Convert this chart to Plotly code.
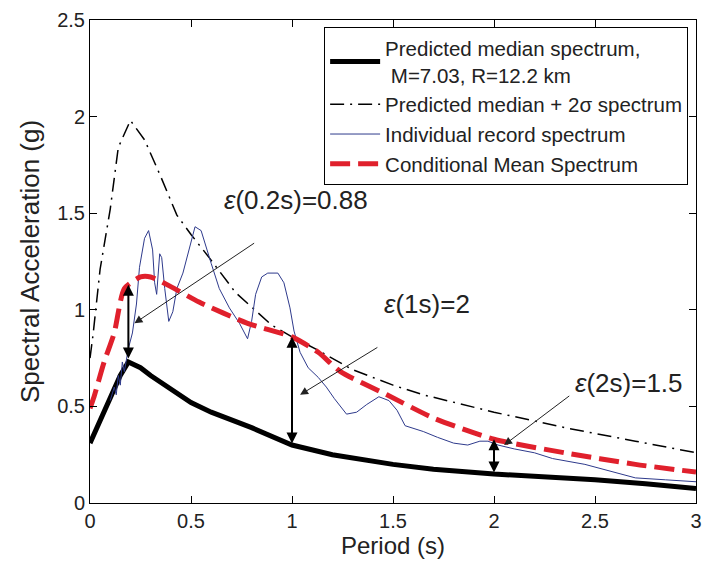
import plotly.graph_objects as go

# ---------------- data ----------------
T_median = [0, 0.05, 0.1, 0.15, 0.19, 0.25, 0.3, 0.4, 0.5, 0.6, 0.7, 0.8, 1.0, 1.2, 1.5, 1.7, 2.0, 2.35, 2.5, 2.75, 3.0]
SA_median = [0.31, 0.43, 0.55, 0.66, 0.73, 0.70, 0.66, 0.59, 0.52, 0.47, 0.43, 0.39, 0.30, 0.25, 0.20, 0.175, 0.15, 0.13, 0.12, 0.10, 0.075]

T_plus2s = [0, 0.015, 0.05, 0.1, 0.14, 0.2, 0.27, 0.35, 0.43, 0.5, 0.59, 0.72, 0.9, 1.0, 1.13, 1.3, 1.5, 1.65, 2.0, 2.35, 2.7, 3.0]
SA_plus2s = [0.75, 0.87, 1.21, 1.52, 1.84, 1.98, 1.88, 1.69, 1.49, 1.39, 1.27, 1.09, 0.92, 0.86, 0.79, 0.69, 0.61, 0.56, 0.47, 0.39, 0.32, 0.26]

T_record = [0.10, 0.12, 0.13, 0.14, 0.15, 0.16, 0.17, 0.19, 0.21, 0.23, 0.245, 0.27, 0.29, 0.31, 0.32, 0.33, 0.345, 0.355,
            0.37, 0.39, 0.41, 0.43, 0.46, 0.49, 0.52, 0.55, 0.57, 0.6, 0.64, 0.69, 0.74, 0.78, 0.8, 0.82, 0.85, 0.88,
            0.93, 0.96, 0.99, 1.01, 1.04, 1.08, 1.13, 1.17, 1.21, 1.27, 1.32, 1.37, 1.43, 1.48, 1.52, 1.56, 1.65,
            1.72, 1.8, 1.87, 1.93, 1.97, 2.02, 2.1, 2.2, 2.29, 2.45, 2.6, 2.7, 2.85, 3.0]
SA_record = [0.53, 0.60, 0.56, 0.66, 0.61, 0.73, 0.68, 0.80, 0.88, 1.03, 1.22, 1.37, 1.41, 1.31, 1.14, 1.08, 1.29, 1.27,
             1.11, 0.94, 0.99, 1.11, 1.19, 1.31, 1.43, 1.41, 1.34, 1.24, 1.11, 1.01, 0.93, 0.85, 0.94, 1.08, 1.17, 1.19,
             1.19, 1.14, 1.01, 0.89, 0.78, 0.70, 0.65, 0.60, 0.54, 0.46, 0.47, 0.51, 0.55, 0.53, 0.48, 0.40, 0.37,
             0.34, 0.31, 0.30, 0.32, 0.32, 0.30, 0.28, 0.26, 0.23, 0.20, 0.16, 0.13, 0.12, 0.11]

T_cms = [0, 0.02, 0.07, 0.12, 0.17, 0.25, 0.3, 0.4, 0.54, 0.78, 1.0, 1.13, 1.24, 1.47, 1.7, 2.0, 2.35, 2.7, 3.0]
SA_cms = [0.49, 0.55, 0.73, 0.88, 1.11, 1.17, 1.17, 1.12, 1.04, 0.93, 0.86, 0.78, 0.68, 0.56, 0.44, 0.33, 0.26, 0.20, 0.16]

# epsilon arrows: period, median value, CMS value
eps_T = [0.19, 1.0, 2.0]
eps_lo = [0.74, 0.30, 0.15]
eps_hi = [1.13, 0.86, 0.33]

# labels: text, text position, arrow tail, arrow head
eps_text = ["<i>ε</i>(0.2s)=0.88", "<i>ε</i>(1s)=2", "<i>ε</i>(2s)=1.5"]
eps_text_xy = [(1.02, 1.57), (1.67, 1.03), (2.67, 0.62)]
eps_tail = [(0.82, 1.35), (1.43, 0.81), (2.38, 0.56)]
eps_head = [(0.22, 0.93), (1.04, 0.56), (2.05, 0.30)]

x_ticks = [0, 0.5, 1, 1.5, 2, 2.5, 3]
y_ticks = [0, 0.5, 1, 1.5, 2, 2.5]

FONT = "Liberation Sans, Arial, sans-serif"
TXT = "#222222"

fig = go.Figure()
fig.add_trace(go.Scatter(x=T_median, y=SA_median, mode="lines",
                         name="Predicted median spectrum,<br> M=7.03, R=12.2 km",
                         line=dict(color="black", width=5)))
fig.add_trace(go.Scatter(x=T_plus2s, y=SA_plus2s, mode="lines",
                         name="Predicted median + 2σ spectrum",
                         line=dict(color="black", width=1.5, dash="14px,6px,2px,6px")))
fig.add_trace(go.Scatter(x=T_record, y=SA_record, mode="lines",
                         name="Individual record spectrum",
                         line=dict(color="#2e3a8c", width=1)))
fig.add_trace(go.Scatter(x=T_cms, y=SA_cms, mode="lines",
                         name="Conditional Mean Spectrum",
                         line=dict(color="#e0202c", width=5, dash="20px,8px", shape="spline", smoothing=0.6)))

annotations = []
for t, lo, hi in zip(eps_T, eps_lo, eps_hi):
    annotations.append(dict(x=t, y=hi, ax=t, ay=lo, xref="x", yref="y", axref="x", ayref="y",
                            text="", showarrow=True, arrowhead=2, startarrowhead=2, arrowside="end+start",
                            arrowsize=1.1, startarrowsize=1.1, arrowwidth=2, arrowcolor="black",
                            standoff=0, startstandoff=0))
for txt, (tx, ty), (ax, ay), (hx, hy) in zip(eps_text, eps_text_xy, eps_tail, eps_head):
    annotations.append(dict(x=tx, y=ty, xref="x", yref="y", text=txt, showarrow=False,
                            font=dict(family=FONT, size=26, color=TXT)))
    annotations.append(dict(x=hx, y=hy, ax=ax, ay=ay, xref="x", yref="y", axref="x", ayref="y",
                            text="", showarrow=True, arrowhead=2, arrowsize=1.6, arrowwidth=1,
                            arrowcolor="#222222", standoff=0))

axis_common = dict(showline=True, linecolor="black", linewidth=1, mirror="ticks",
                   ticks="inside", ticklen=7, tickcolor="black", showgrid=False, zeroline=False,
                   tickfont=dict(family=FONT, size=20, color=TXT))

fig.update_layout(
    width=711, height=565,
    margin=dict(l=90, r=9, t=18, b=62),
    paper_bgcolor="white", plot_bgcolor="white",
    font=dict(family=FONT, color=TXT),
    xaxis=dict(range=[0, 3], tickvals=x_ticks, ticktext=[str(v) for v in x_ticks],
               title=dict(text="Period (s)", font=dict(family=FONT, size=24, color=TXT), standoff=2),
               **axis_common),
    yaxis=dict(range=[0, 2.5], tickvals=y_ticks, ticktext=[str(v) for v in y_ticks],
               title=dict(text="Spectral Acceleration (g)", font=dict(family=FONT, size=26, color=TXT), standoff=10),
               **axis_common),
    legend=dict(x=0.987, y=0.985, xanchor="right", yanchor="top",
                bgcolor="white", bordercolor="black", borderwidth=1, itemwidth=50,
                font=dict(family=FONT, size=20.5, color=TXT), tracegroupgap=0),
    showlegend=True,
    annotations=annotations,
)

fig.write_html("out.html")
